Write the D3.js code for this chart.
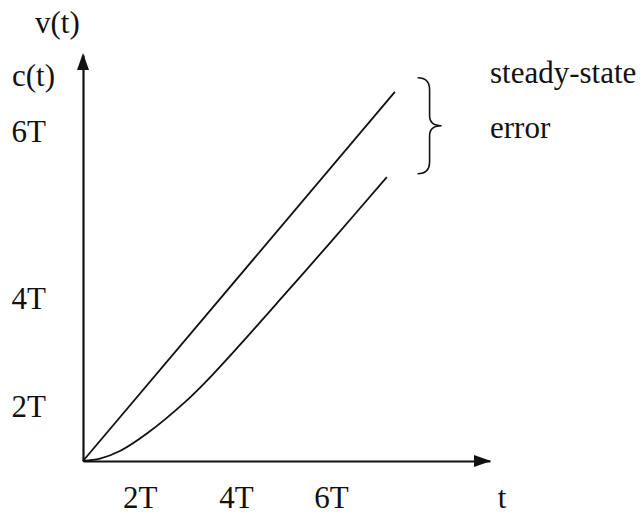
<!DOCTYPE html>
<html><head><meta charset="utf-8">
<script src="https://cdn.jsdelivr.net/npm/d3@7"></script>
<style>
html,body{margin:0;padding:0;background:#fff;}
svg{display:block;}
</style>
</head><body>
<svg id="chart" width="642" height="514"></svg>
<script>
// ---- data (units of T) ----
const tDomain = [0, 8.6];
const yDomain = [0, 8.58];
const vTime = [0, 6.59];
const vValue = [0, 7.80];
const cTime = [0, 0.36, 0.78, 1.35, 2.16, 2.62, 3.32, 4.27, 5.22, 6.42];
const cValue = [0, 0.05, 0.21, 0.58, 1.25, 1.70, 2.46, 3.53, 4.61, 6.00];
const xTickLabels = ["2T", "4T", "6T"];
const xTickPos = [1.20, 3.23, 5.24];
const yTickLabels = ["6T", "4T", "2T"];
const yTickPos = [6.97, 3.44, 1.16];
const xAxisTitle = "t";
const yAxisTitles = ["v(t)", "c(t)"];
const braceLabel = ["steady-state", "error"];
const braceSpan = [8.1, 6.07];   // y-extent of brace
const braceAt = 7.07;            // t position of brace

const FONT = '"Liberation Serif","Times New Roman",serif';
const FS = 31;
const INK = "#111";
const svg = d3.select("#chart");
const x = d3.scaleLinear().domain(tDomain).range([83, 490]);
const y = d3.scaleLinear().domain(yDomain).range([461, 55]);

// axes
const gx = svg.append("g").attr("transform", `translate(0,${y(0)})`)
  .call(d3.axisBottom(x).tickValues(xTickPos).tickFormat((d, i) => xTickLabels[i])
        .tickSize(0).tickSizeOuter(0).tickPadding(25));
const gy = svg.append("g").attr("transform", `translate(${x(0)},0)`)
  .call(d3.axisLeft(y).tickValues(yTickPos).tickFormat((d, i) => yTickLabels[i])
        .tickSize(0).tickSizeOuter(0).tickPadding(37));
[gx, gy].forEach(g => {
  g.attr("font-family", FONT).attr("font-size", FS);
  g.select(".domain").attr("stroke", INK).attr("stroke-width", 2.2);
  g.selectAll("text").attr("fill", INK);
});
gy.selectAll("text").attr("dy", "0.32em");

// arrowheads
const tipX = x(tDomain[1]), tipY = y(yDomain[1]);
svg.append("path").attr("fill", INK)
  .attr("d", `M${tipX + 1},${y(0)} L${tipX - 16},${y(0) - 6} L${tipX - 16},${y(0) + 6} Z`);
svg.append("path").attr("fill", INK)
  .attr("d", `M${x(0)},${tipY - 2} L${x(0) - 6},${tipY + 15} L${x(0) + 6},${tipY + 15} Z`);

// series
const line = d3.line().x(d => x(d[0])).y(d => y(d[1]));
svg.append("path").datum(vTime.map((t, i) => [t, vValue[i]]))
  .attr("d", line).attr("fill", "none").attr("stroke", INK).attr("stroke-width", 1.8);
svg.append("path").datum(cTime.map((t, i) => [t, cValue[i]]))
  .attr("d", line.curve(d3.curveCatmullRom.alpha(0.5))).attr("fill", "none").attr("stroke", INK).attr("stroke-width", 1.8);

// axis titles
const txt = (s, px, py, anchor) => svg.append("text").text(s).attr("x", px).attr("y", py)
  .attr("font-family", FONT).attr("font-size", FS).attr("fill", INK).attr("text-anchor", anchor || "start");
txt(yAxisTitles[0], 35, 33);
txt(yAxisTitles[1], 12, 86);
txt(xAxisTitle, 502, 508, "middle");

// brace
const bx = x(braceAt), b0 = y(braceSpan[0]), b1 = y(braceSpan[1]);
const bm = (b0 + b1) / 2, w = 12;
svg.append("path").attr("fill", "none").attr("stroke", INK).attr("stroke-width", 1.6)
  .attr("d", `M${bx},${b0} Q${bx + w},${b0} ${bx + w},${b0 + 12} L${bx + w},${bm - 10} Q${bx + w},${bm} ${bx + 2 * w},${bm}` +
             ` Q${bx + w},${bm} ${bx + w},${bm + 10} L${bx + w},${b1 - 12} Q${bx + w},${b1} ${bx},${b1}`);
txt(braceLabel[0], 490, 83);
txt(braceLabel[1], 490, 138);
</script>
</body></html>
